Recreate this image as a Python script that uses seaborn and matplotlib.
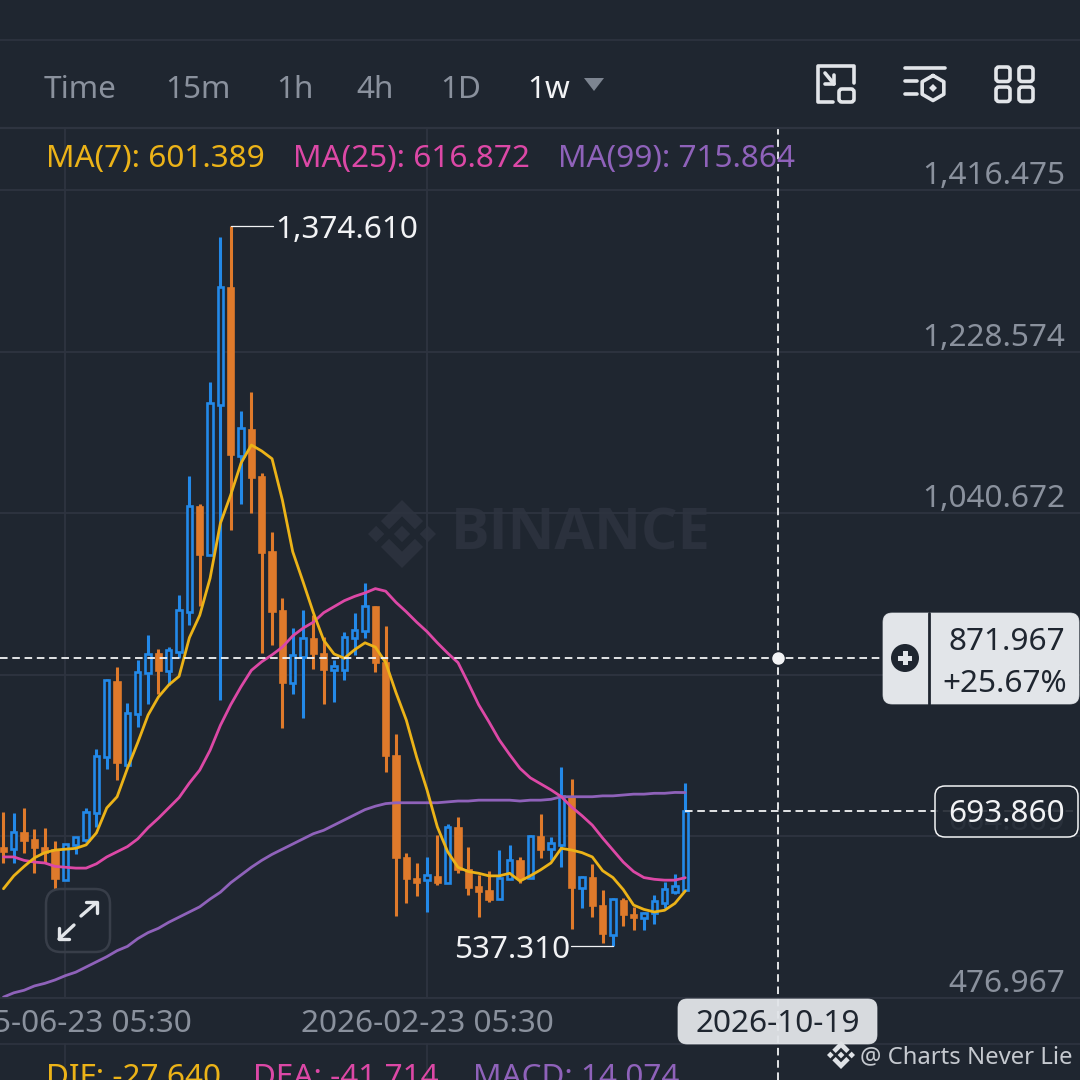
import numpy as np
import pandas as pd
import seaborn as sns
import matplotlib
matplotlib.use("Agg")
import matplotlib.pyplot as plt
import matplotlib.dates as mdates
from matplotlib.patches import FancyBboxPatch, Polygon, Circle, Rectangle
from matplotlib.transforms import ScaledTranslation

# ---------- data ----------
first_week = "2025-05-12"
opens  = [651,650,669,661,651,649,614,655,661,692,757,844,748,807,855,877,857,879,926,1048,992,1167,1303,1107,1137,1083,996,927,843,874,894,877,858,858,896,904,932,867,758,640,615,614,618,611,675,626,606,601,592,615,636,617,664,650,655,710,605,617,584,550,590,574,570,576,587,600,603]
closes = [648,670,661,653,647,617,656,664,693,758,847,751,808,856,877,858,882,928,1049,993,1169,1304,1110,1140,1083,996,927,844,876,896,878,860,863,897,905,933,868,760,641,617,612,620,612,676,627,606,601,592,617,637,617,665,650,657,712,606,618,585,553,592,575,571,576,590,604,607,693.86]
highs  = [693,692,698,674,675,660,656,664,698,767,848,862,820,870,899,883,885,946,1084,1051,1193,1362,1374.61,1160,1182,1087,1019,942,907,928,922,897,870,903,925,960,933,910,784,646,634,641,667,679,687,653,620,625,649,655,641,667,691,664,746,732,619,633,603,593,593,583,577,597,612,621,727]
lows   = [634,634,646,622,634,604,614,644,658,676,743,730,746,792,819,830,841,872,911,933,992,824,1021,1051,1041,878,887,791,830,803,860,819,821,847,876,896,856,740,572,587,596,577,608,611,622,597,571,589,592,615,611,617,640,637,629,557,582,571,541,537.31,561,556,556,563,582,598,601]
ma7  = [604,619,630,640,646,649,650,651,655,669,698,711,744,774,806,827,841,851,896,922,965,1029,1062,1099,1120,1113,1104,1056,996,961,925,893,877,872,882,890,885,867,832,800,757,719,676,647,629,624,622,619,619,622,613,619,626,634,651,649,646,641,625,617,603,585,580,577,579,587,601.389]
ma25 = [641,641,637,635,634,630,629,628,628,633,641,647,653,662,675,686,698,710,727,742,765,794,818,839,858,868,876,885,898,907,914,925,932,939,944,948,953,950,937,926,914,903,890,878,867,843,818,798,777,760,744,733,726,719,711,699,689,678,663,649,635,624,617,615,614,614,616.872]
ma99 = [478,483,486,491,494,498,503,507,513,519,525,532,537,546,553,558,565,571,577,583,592,600,611,620,629,637,644,650,656,662,668,672,678,684,690,696,700,703,704,704,704,704,704,705,706,706,707,707,707,707,706,707,707,708,711,711,711,711,712,712,713,714,714,715,715,716,715.864]
price_ticks = [476.967, 664.869, 852.771, 1040.672, 1228.574, 1416.475]
price_labels = ["476.967", "664.869", "852.771", "1,040.672", "1,228.574", "1,416.475"]
date_ticks = ["2025-06-23", "2026-02-23"]
cross_date = "2026-10-19"
cross_price = 871.967
cross_pct = "+25.67%"
last_price = 693.860
ma_legend = ["MA(7): 601.389", "MA(25): 616.872", "MA(99): 715.864"]
macd_legend = ["DIF: -27.640", "DEA: -41.714", "MACD: 14.074"]
tabs = ["Time", "15m", "1h", "4h", "1D"]

# ---------- style ----------
BG, GRID = "#1f2630", "#2e3440"
BLUE, ORANGE = "#2389e8", "#df7a2b"
YELLOW, PINK, PURPLE = "#ecb318", "#dc48a6", "#8f62ba"
GRAY, LIGHT, WHITE = "#8a919d", "#e2e5e9", "#f2f3f5"
WM = "#2b313d"

sns.set_theme(style="dark")
plt.rcParams["font.family"] = ["Noto Sans", "DejaVu Sans"]
plt.rcParams["ytick.alignment"] = "baseline"
FS = 22.7

fig = plt.figure(figsize=(10.8, 10.8), dpi=100, facecolor=BG)


def pxaxes(z):
    a = fig.add_axes([0, 0, 1, 1], zorder=z)
    a.set_xlim(0, 1080)
    a.set_ylim(1080, 0)
    a.axis("off")
    a.patch.set_alpha(0)
    return a


def logo(a, cx, cy, R, color, z=1):
    s = 0.24
    for dx in (-0.76, 0, 0.76):
        a.add_patch(Polygon([(cx + (dx - s) * R, cy), (cx + dx * R, cy - s * R),
                             (cx + (dx + s) * R, cy), (cx + dx * R, cy + s * R)],
                            fc=color, ec="none", zorder=z))
    for sg in (-1, 1):
        pts = [(0, 1), (.62, .38), (.38, .14), (0, .52), (-.38, .14), (-.62, .38)]
        a.add_patch(Polygon([(cx + px * R, cy - sg * py * R) for px, py in pts],
                            fc=color, ec="none", zorder=z))


# background layer with the watermark
back = pxaxes(0)
logo(back, 402, 534, 34, WM)
back.text(581, 534, "BINANCE", color=WM, fontsize=41.5, fontweight="bold",
          family="Open Sans", ha="center", va="center")

# ---------- main chart ----------
ax = fig.add_axes([0, 82 / 1080, 1, 870 / 1080], zorder=1)
ax.patch.set_alpha(0)

dates = pd.date_range(first_week, periods=len(opens), freq="7D")
xs = mdates.date2num(dates)
df = pd.DataFrame({"x": xs, "o": opens, "c": closes, "h": highs, "l": lows,
                   "ma7": ma7, "ma25": ma25, "ma99": ma99})
up = df.c >= df.o
ccol = np.where(up, BLUE, ORANGE)

ax.vlines(df.x, df.l, df.h, colors=ccol, lw=2.2, zorder=3)
ax.bar(df.x, (df.c - df.o).abs(), bottom=df[["o", "c"]].min(axis=1), width=3.6,
       facecolor=np.where(up, BG, ORANGE), edgecolor=ccol, lw=1.9, zorder=4)
for col, colr in (("ma99", PURPLE), ("ma25", PINK), ("ma7", YELLOW)):
    sns.lineplot(data=df, x="x", y=col, color=colr, lw=2.0, ax=ax, zorder=5,
                 estimator=None, sort=False)
ax.set_xlabel("")
ax.set_ylabel("")

x_ref = mdates.date2num(pd.Timestamp(date_ticks[1]))
day_px = 10.33 / 7
ax.set_xlim(x_ref - 427 / day_px, x_ref + (1080 - 427) / day_px)
ax.set_ylim(price_ticks[0], price_ticks[0] + 870 * 1.1628)
ax.set_xticks(mdates.date2num(pd.to_datetime(date_ticks)))
ax.set_xticklabels([d + " 05:30" for d in date_ticks])
ax.set_yticks(price_ticks)
ax.set_yticklabels(price_labels)
ax.grid(True, color=GRID, lw=1.3, zorder=0)
ax.tick_params(axis="x", length=0, pad=8, labelsize=FS, labelcolor=GRAY)
ax.tick_params(axis="y", length=0, left=False, right=False, labelleft=False,
               labelright=True, pad=-10.8, labelsize=FS, labelcolor=GRAY)
for lab in ax.get_yticklabels():
    lab.set_ha("right")
    lab.set_transform(lab.get_transform() + ScaledTranslation(0, 6 / 100, fig.dpi_scale_trans))
for sp in ax.spines.values():
    sp.set_visible(False)

# high / low callouts, from the data
i_hi, i_lo = int(np.argmax(highs)), int(np.argmin(lows))
arm = 42 / day_px
ax.plot([xs[i_hi], xs[i_hi] + arm], [highs[i_hi]] * 2, color=WHITE, lw=0.9, zorder=7)
ax.plot([xs[i_lo], xs[i_lo] - arm], [lows[i_lo]] * 2, color=WHITE, lw=0.9, zorder=7)
ax.annotate(f"{highs[i_hi]:,.3f}", xy=(xs[i_hi] + arm, highs[i_hi]), xytext=(3, 0),
            textcoords="offset pixels", color=WHITE, fontsize=FS, ha="left",
            va="center_baseline", zorder=7)
ax.annotate(f"{lows[i_lo]:,.3f}", xy=(xs[i_lo] - arm, lows[i_lo]), xytext=(-1, 0),
            textcoords="offset pixels", color=WHITE, fontsize=FS, ha="right",
            va="center_baseline", zorder=7)

# crosshair and last price guides, in data coordinates
cx_num = mdates.date2num(pd.Timestamp(cross_date))
dash = (0, (4.2, 2.6))
ax.axhline(cross_price, color=WHITE, lw=1.3, ls=dash, zorder=6)
ax.plot([xs[-1], cx_num + 200], [last_price, last_price], color=WHITE, lw=1.3, ls=dash, zorder=6)
ax.plot([cx_num, cx_num], [price_ticks[0] - 82 * 1.1628, price_ticks[0] + 870 * 1.1628],
        color=WHITE, lw=1.3, ls=dash, zorder=6, clip_on=False)
ax.plot([cx_num], [cross_price], "o", color=WHITE, ms=8, zorder=7)

# ---------- interface layer ----------
ui = pxaxes(2)
for y in (40, 128):
    ui.plot([0, 1080], [y, y], color=GRID, lw=1.6 if y == 128 else 1.2)
ui.plot([0, 1080], [1044, 1044], color=GRID, lw=1.2)
ui.plot([0, 1080], [998, 998], color=GRID, lw=1.3)
ax_x = ax.transData.transform((mdates.date2num(pd.Timestamp(date_ticks[0])), 0))[0]
for xx in (ax_x, 427):
    ui.plot([xx, xx], [1044, 1080], color=GRID, lw=1.2)

for t, x in zip(tabs, (44, 165, 276, 356, 440)):
    ui.text(x, 86, t, color=GRAY, fontsize=FS, ha="left", va="center_baseline")
ui.text(527, 86, "1w", color=WHITE, fontsize=FS, fontweight="bold", ha="left", va="center_baseline")
ui.add_patch(Polygon([(584, 78), (604, 78), (594, 91)], fc="#7d8591", ec="none"))
for t, x, colr in zip(ma_legend, (46, 293, 558), (YELLOW, PINK, PURPLE)):
    ui.text(x, 155.5, t, color=colr, fontsize=FS, ha="left", va="center_baseline")
for t, x, colr in zip(macd_legend, (46, 253, 473), (YELLOW, PINK, PURPLE)):
    ui.text(x, 1075, t, color=colr, fontsize=FS, ha="left", va="center_baseline", clip_on=True)
ui.text(1065, 1091, "180.000", color=GRAY, fontsize=FS, ha="right", va="center_baseline", clip_on=True)

# toolbar icons
ilw = 2.6
def ln(p, lw=ilw, c=LIGHT):
    xx, yy = zip(*p)
    ui.plot(xx, yy, color=c, lw=lw, solid_capstyle="round", solid_joinstyle="round")
def rr(x0, y0, x1, y1, r, fc="none", ec=LIGHT, lw=ilw, z=3):
    p = FancyBboxPatch((x0, y0), x1 - x0, y1 - y0, boxstyle=f"round,pad=0,rounding_size={r}",
                       fc=fc, ec=ec, lw=lw, zorder=z)
    ui.add_patch(p)
ln([(833, 102), (818, 102), (818, 66), (854, 66), (854, 83)])
rr(839, 89, 854, 102, 3)
ln([(825, 73), (834, 84)]); ln([(834, 75), (834, 84), (825, 84)])
ln([(905, 68), (945, 68)]); ln([(905, 81), (917, 81)]); ln([(905, 94), (917, 94)])
hexa = [(933 + 12.5 * np.sin(t), 88 - 12.5 * np.cos(t)) for t in np.arange(7) * np.pi / 3]
ln(hexa)
ui.add_patch(Polygon([(929, 88), (933, 84), (937, 88), (933, 92)], fc=LIGHT, ec="none"))
for x0 in (996, 1019):
    for y0 in (67, 87):
        rr(x0, y0, x0 + 14, y0 + 14.5, 3)

# expand button
rr(46, 889, 110, 952, 15, ec="#383e49", lw=1.8)
ln([(81, 916), (96, 903)], lw=2.4); ln([(86, 902), (97, 902), (97, 913)], lw=2.4)
ln([(74, 925), (59, 939)], lw=2.4); ln([(59, 928), (59, 939), (69, 939)], lw=2.4)

# crosshair price tag
rr(883, 613, 1079, 704, 9, fc=LIGHT, ec=LIGHT, lw=0.5, z=4)
ui.plot([929, 929], [613, 704], color=BG, lw=2, zorder=5)
ui.add_patch(Circle((905, 658), 14, fc=BG, ec="none", zorder=5))
ui.add_patch(Rectangle((898, 655.5), 14, 5, fc=LIGHT, ec="none", zorder=6))
ui.add_patch(Rectangle((902.5, 651), 5, 14, fc=LIGHT, ec="none", zorder=6))
ui.text(1007, 639, f"{cross_price:.3f}", color=BG, fontsize=FS, ha="center", va="center_baseline", zorder=6)
ui.text(1005, 680, cross_pct, color=BG, fontsize=FS, ha="center", va="center_baseline", zorder=6)

# last price tag
rr(935, 786, 1078, 837, 10, fc=BG + "e6", ec=WHITE, lw=1.1, z=4)
ui.text(1007, 811, f"{last_price:.3f}", color=WHITE, fontsize=FS, ha="center", va="center_baseline", zorder=6)

# date tag
rr(678, 999, 877, 1044, 9, fc=LIGHT + "f2", ec=LIGHT, lw=0.5, z=4)
ui.text(778, 1021, cross_date, color=BG, fontsize=FS, ha="center", va="center_baseline", zorder=6)

# footer mark
logo(ui, 841, 1055, 14, "#dfe2e6", z=6)
ui.text(860, 1054, "@ Charts Never Lie", color="#c5c9cf", fontsize=17.2, ha="left",
        va="center_baseline", zorder=6)

fig.savefig("out.png", dpi=100, facecolor=BG)
